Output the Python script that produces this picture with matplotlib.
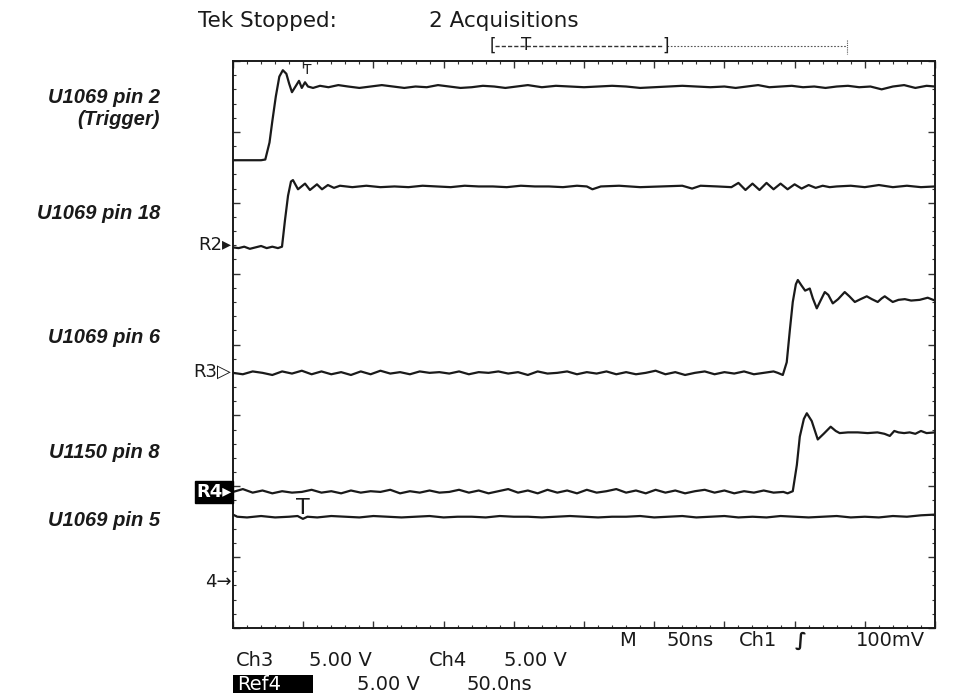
import matplotlib
matplotlib.use("Agg")
import matplotlib.pyplot as plt
from matplotlib.ticker import MultipleLocator
from matplotlib.patches import Rectangle

# ---------------- data (time in ns, level in screen divisions 0..8) ----------------
pin2_t = [0, 10, 20, 23, 26, 28, 30.5, 33, 35.5, 38, 40, 42, 44.5, 47, 49, 51.3, 53.4,
          57, 62, 68, 75, 82, 90, 98, 106, 114, 122, 130, 138, 146, 154, 162, 170, 178,
          186, 194, 202, 210, 220, 230, 240, 250, 260, 270, 280, 290, 300, 310, 320,
          330, 340, 350, 358, 366, 374, 382, 390, 398, 406, 414, 422, 430, 438, 446,
          454, 462, 470, 478, 486, 494, 500]
pin2_v = [6.60, 6.60, 6.60, 6.61, 6.85, 7.15, 7.50, 7.78, 7.87, 7.82, 7.68, 7.56, 7.64,
          7.72, 7.62, 7.70, 7.64, 7.62, 7.65, 7.63, 7.66, 7.64, 7.62, 7.64, 7.66, 7.64,
          7.62, 7.64, 7.63, 7.66, 7.64, 7.62, 7.63, 7.65, 7.64, 7.62, 7.64, 7.66, 7.63,
          7.65, 7.64, 7.63, 7.64, 7.65, 7.64, 7.62, 7.63, 7.64, 7.65, 7.64, 7.63, 7.64,
          7.62, 7.64, 7.66, 7.63, 7.64, 7.65, 7.63, 7.64, 7.62, 7.64, 7.65, 7.63, 7.64,
          7.60, 7.64, 7.66, 7.62, 7.65, 7.64]

pin18_t = [0, 4, 8, 12, 16, 20, 24, 28, 32, 34.9, 37, 39.2, 41.3, 42.7, 46.3, 51.3, 54.8,
           59.8, 63.4, 67.6, 71.9, 76.2, 85, 95, 105, 115, 125, 135, 145, 155, 165, 175,
           185, 195, 205, 215, 225, 235, 245, 252, 256, 262, 275, 290, 305, 320, 327,
           333, 345, 355, 360, 365, 370, 375, 380, 385, 390, 395, 400, 405, 410, 415,
           420, 425, 430, 440, 450, 460, 470, 480, 490, 500]
pin18_v = [5.37, 5.36, 5.38, 5.35, 5.37, 5.39, 5.36, 5.38, 5.36, 5.38, 5.75, 6.10, 6.30,
           6.32, 6.19, 6.27, 6.18, 6.26, 6.19, 6.25, 6.21, 6.24, 6.22, 6.24, 6.22, 6.23,
           6.22, 6.24, 6.23, 6.22, 6.24, 6.23, 6.23, 6.22, 6.24, 6.23, 6.23, 6.22, 6.24,
           6.23, 6.19, 6.23, 6.24, 6.22, 6.23, 6.24, 6.20, 6.24, 6.23, 6.22, 6.28, 6.18,
           6.27, 6.18, 6.28, 6.19, 6.27, 6.19, 6.26, 6.20, 6.25, 6.21, 6.24, 6.22, 6.23,
           6.24, 6.22, 6.25, 6.22, 6.24, 6.22, 6.23]

pin6_t = [0, 7, 14, 21, 28, 35, 42, 49, 56, 63, 70, 77, 84, 91, 98, 105, 112, 119, 126,
          133, 140, 147, 154, 161, 168, 175, 182, 189, 196, 203, 210, 217, 224, 231, 238,
          245, 252, 259, 266, 273, 280, 287, 294, 301, 308, 315, 322, 329, 336, 343, 350,
          357, 364, 371, 378, 385, 388, 391.6, 394.4, 396.6, 398.7, 400.9, 402.3, 405,
          407.5, 410.8, 413, 415.8, 418.5, 421.5, 424, 427.2, 431, 435.7, 439, 442.9, 447,
          451.4, 455, 459.2, 462, 464.2, 467, 469.9, 474, 478.5, 483, 489.1, 494.8, 500]
pin6_v = [3.60, 3.58, 3.62, 3.60, 3.57, 3.62, 3.59, 3.63, 3.58, 3.62, 3.58, 3.61, 3.57,
          3.62, 3.58, 3.63, 3.59, 3.61, 3.58, 3.62, 3.60, 3.61, 3.59, 3.62, 3.58, 3.61,
          3.60, 3.62, 3.59, 3.61, 3.57, 3.62, 3.59, 3.60, 3.62, 3.58, 3.61, 3.59, 3.62,
          3.58, 3.61, 3.58, 3.60, 3.63, 3.58, 3.61, 3.57, 3.60, 3.62, 3.58, 3.61, 3.59,
          3.62, 3.58, 3.60, 3.62, 3.60, 3.57, 3.75, 4.20, 4.60, 4.85, 4.91, 4.83, 4.76,
          4.79, 4.65, 4.51, 4.62, 4.74, 4.70, 4.58, 4.64, 4.74, 4.68, 4.60, 4.64, 4.68,
          4.64, 4.60, 4.65, 4.68, 4.64, 4.60, 4.63, 4.64, 4.62, 4.63, 4.66, 4.62]

pin8_t = [0, 7, 14, 21, 28, 35, 42, 49, 56, 63, 70, 77, 84, 91, 98, 105, 112, 119, 126,
          133, 140, 147, 154, 161, 168, 175, 182, 189, 196, 203, 210, 217, 224, 231, 238,
          245, 252, 259, 266, 273, 280, 287, 294, 301, 308, 315, 322, 329, 336, 343, 350,
          357, 364, 371, 378, 385, 392, 395, 398.7, 401.6, 403.7, 406.6, 408.7, 412.2,
          416.5, 420.7, 425.7, 429.3, 432.1, 438, 445, 452, 459, 464, 467.8, 471, 474,
          478, 482, 486, 490, 494, 500]
pin8_v = [1.92, 1.96, 1.91, 1.94, 1.90, 1.93, 1.91, 1.92, 1.95, 1.91, 1.93, 1.90, 1.94,
          1.91, 1.93, 1.92, 1.95, 1.90, 1.93, 1.91, 1.94, 1.91, 1.92, 1.95, 1.91, 1.94,
          1.90, 1.93, 1.96, 1.91, 1.94, 1.90, 1.95, 1.91, 1.94, 1.90, 1.95, 1.91, 1.93,
          1.96, 1.91, 1.94, 1.90, 1.95, 1.91, 1.94, 1.90, 1.93, 1.95, 1.91, 1.94, 1.90,
          1.93, 1.91, 1.94, 1.91, 1.92, 1.90, 1.93, 2.30, 2.70, 2.95, 3.03, 2.92, 2.66,
          2.74, 2.84, 2.78, 2.75, 2.76, 2.76, 2.75, 2.76, 2.74, 2.71, 2.78, 2.76, 2.75,
          2.76, 2.74, 2.78, 2.75, 2.76]

pin5_t = [0, 3, 10, 20, 30, 40, 46, 49.8, 53, 60, 70, 80, 90, 100, 110, 120, 130, 140,
          150, 160, 170, 180, 190, 200, 210, 220, 230, 240, 250, 260, 270, 280, 290, 300,
          310, 320, 330, 340, 350, 360, 370, 380, 390, 400, 410, 420, 430, 440, 450, 460,
          470, 480, 490, 500]
pin5_v = [1.60, 1.57, 1.56, 1.58, 1.56, 1.57, 1.58, 1.54, 1.57, 1.56, 1.58, 1.57, 1.56,
          1.58, 1.57, 1.56, 1.57, 1.58, 1.56, 1.57, 1.57, 1.56, 1.58, 1.57, 1.57, 1.56,
          1.57, 1.58, 1.57, 1.56, 1.57, 1.57, 1.58, 1.56, 1.57, 1.58, 1.56, 1.57, 1.58,
          1.56, 1.57, 1.56, 1.58, 1.57, 1.56, 1.57, 1.58, 1.56, 1.57, 1.56, 1.58, 1.57,
          1.59, 1.60]

channel_labels = ["U1069 pin 2\n(Trigger)", "U1069 pin 18", "U1069 pin 6",
                  "U1150 pin 8", "U1069 pin 5"]
label_levels = [7.33, 5.85, 4.1, 2.48, 1.52]
traces = [(pin2_t, pin2_v), (pin18_t, pin18_v), (pin6_t, pin6_v),
          (pin8_t, pin8_v), (pin5_t, pin5_v)]

# ---------------- figure ----------------
W, H = 955, 696
fig = plt.figure(figsize=(W / 100, H / 100), dpi=100)
fig.patch.set_facecolor("white")

def fx(px):
    return px / W

def fy(py):
    return 1 - py / H

L, R, T, B = 233, 935, 61, 628
ax = fig.add_axes([fx(L), fy(B), fx(R) - fx(L), fy(T) - fy(B)])
ax.set_xlim(0, 500)
ax.set_ylim(0, 8)

for t, v in traces:
    ax.plot(t, v, color="#1a1a1a", lw=1.6, solid_joinstyle="round")

ax.xaxis.set_major_locator(MultipleLocator(50))
ax.xaxis.set_minor_locator(MultipleLocator(10))
ax.yaxis.set_major_locator(MultipleLocator(1))
ax.yaxis.set_minor_locator(MultipleLocator(0.2))
ax.tick_params(which="both", direction="in", top=True, right=True,
               labelbottom=False, labelleft=False, color="#333333")
ax.tick_params(which="major", length=5, width=1.0)
ax.tick_params(which="minor", length=2.5, width=0.8)
for s in ax.spines.values():
    s.set_linewidth(1.4)
    s.set_color("#1a1a1a")

# ---------------- channel labels (left) ----------------
lab_font = dict(family=["Liberation Sans", "DejaVu Sans"], style="italic",
                weight="bold", fontsize=14.5, color="#1a1a1a")
for text, lvl in zip(channel_labels, label_levels):
    ax.text(-73 / 702 * 500, lvl, text, ha="right", va="center",
            linespacing=1.15, clip_on=False, **lab_font)

# ---------------- reference markers ----------------
mk_font = dict(family=["DejaVu Sans"], fontsize=13, color="#1a1a1a")
ax.text(-1, 5.40, "R2▸", ha="right", va="center", clip_on=False, **mk_font)
ax.text(-1, 3.62, "R3▷", ha="right", va="center", clip_on=False, **mk_font)
ax.text(-1, 1.92, "R4▸", ha="right", va="center", clip_on=False,
        family=["DejaVu Sans"], fontsize=13, color="white", weight="bold",
        bbox=dict(boxstyle="square,pad=0.1", facecolor="black", edgecolor="black"))
ax.text(-1, 0.65, "4→", ha="right", va="center", clip_on=False, **mk_font)

# trigger markers
ax.text(53, 7.87, "T", ha="center", va="center", fontsize=10,
        family=["DejaVu Sans"], color="#1a1a1a")
ax.text(50, 1.70, "T", ha="center", va="center", fontsize=16,
        family=["DejaVu Sans"], color="#1a1a1a")

# ---------------- header ----------------
hdr = dict(family=["DejaVu Sans"], fontsize=15.5, color="#1a1a1a")
fig.text(fx(198), fy(21), "Tek Stopped:", ha="left", va="center", **hdr)
fig.text(fx(429), fy(21), "2 Acquisitions", ha="left", va="center", **hdr)

# record bracket
fig.add_artist(plt.Line2D([fx(495), fx(663)], [fy(46), fy(46)], color="#333333",
                          lw=1.0, ls=(0, (3, 1.5))))
fig.add_artist(plt.Line2D([fx(667), fx(847)], [fy(46), fy(46)], color="#555555",
                          lw=0.8, ls=(0, (1.5, 1.5))))
fig.add_artist(plt.Line2D([fx(847), fx(847)], [fy(40), fy(54)], color="#555555",
                          lw=0.8, ls=(0, (1, 1))))
br = dict(family=["DejaVu Sans"], fontsize=12, color="#1a1a1a", ha="center", va="center")
fig.text(fx(493), fy(46), "[", **br)
fig.text(fx(666), fy(46), "]", **br)
fig.text(fx(526), fy(45), "T", **br)

# ---------------- footer ----------------
ft = dict(family=["DejaVu Sans"], fontsize=14, color="#1a1a1a", va="center", ha="left")
fig.text(fx(619), fy(640), "M", **ft)
fig.text(fx(667), fy(640), "50ns", **ft)
fig.text(fx(739), fy(640), "Ch1", **ft)
fig.text(fx(795), fy(640), "∫", weight="bold", **ft)
fig.text(fx(856), fy(640), "100mV", **ft)
fig.text(fx(236), fy(661), "Ch3", **ft)
fig.text(fx(309), fy(661), "5.00 V", **ft)
fig.text(fx(429), fy(661), "Ch4", **ft)
fig.text(fx(504), fy(661), "5.00 V", **ft)
fig.add_artist(Rectangle((fx(233), fy(693)), fx(313) - fx(233), fy(675) - fy(693),
                         transform=fig.transFigure, facecolor="black",
                         edgecolor="none"))
ft_inv = dict(ft)
ft_inv["color"] = "white"
fig.text(fx(237), fy(684), "Ref4", **ft_inv)
fig.text(fx(357), fy(684), "5.00 V", **ft)
fig.text(fx(466), fy(684), "50.0ns", **ft)

fig.savefig("out.png", dpi=100, facecolor="white")
